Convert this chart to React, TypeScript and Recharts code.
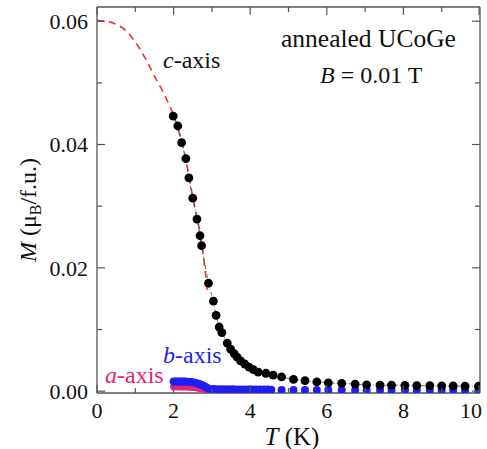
import { ComposedChart, Line, XAxis, YAxis } from "recharts";

// c-axis measured points (T in K, M in μB/f.u.)
const cT = [1.99, 2.11, 2.21, 2.32, 2.4, 2.5, 2.61, 2.69, 2.73, 2.91, 3.04, 3.11, 3.19, 3.26, 3.4, 3.49, 3.58, 3.66, 3.75, 3.86, 3.97, 4.08, 4.21, 4.41, 4.6, 4.82, 5.13, 5.43, 5.74, 6.04, 6.39, 6.74, 7.04, 7.39, 7.69, 8.04, 8.35, 8.69, 9.0, 9.3, 9.61, 9.96];
const cM = [0.0446, 0.043, 0.0403, 0.0377, 0.0346, 0.0313, 0.0279, 0.0252, 0.0236, 0.0175, 0.0146, 0.0123, 0.0104, 0.0095, 0.0078, 0.0068, 0.0061, 0.0055, 0.0049, 0.0044, 0.0039, 0.0035, 0.0031, 0.0029, 0.0026, 0.0023, 0.0019, 0.0017, 0.0015, 0.00135, 0.00125, 0.00114, 0.00102, 0.00097, 0.00097, 0.00095, 0.0009, 0.0009, 0.00086, 0.00085, 0.00081, 0.0008];

// fit curve (red dashed)
const fitT = [0, 0.25, 0.5, 0.75, 1.0, 1.25, 1.5, 1.75, 2.0, 2.25, 2.5, 2.75, 2.88];
const fitM = [0.0601, 0.06, 0.0595, 0.0585, 0.0566, 0.0541, 0.0511, 0.0482, 0.0447, 0.0395, 0.0315, 0.0232, 0.0162];

// b-axis
const bT = [2.0, 2.05, 2.1, 2.15, 2.2, 2.25, 2.3, 2.35, 2.4, 2.45, 2.5, 2.55, 2.6, 2.65, 2.7, 2.75, 2.8, 2.85, 2.9, 2.95, 3.05, 3.15, 3.25, 3.35, 3.45, 3.55, 3.65, 3.75, 3.85, 3.95, 4.05, 4.15, 4.25, 4.35, 4.45, 4.55, 4.82, 5.13, 5.43, 5.74, 6.04, 6.39, 6.74, 7.04, 7.39, 7.69, 8.04, 8.35, 8.69, 9.0, 9.3, 9.61, 9.96];
const bM = [0.00155, 0.00156, 0.00157, 0.00157, 0.00157, 0.00156, 0.00155, 0.00153, 0.0015, 0.00147, 0.00143, 0.00137, 0.0013, 0.0012, 0.00108, 0.00095, 0.0008, 0.00062, 0.00045, 0.00036, 0.00033, 0.00032, 0.00031, 0.0003, 0.0003, 0.00029, 0.00028, 0.00028, 0.00027, 0.00027, 0.00026, 0.00026, 0.00025, 0.00025, 0.00025, 0.00024, 0.0002, 0.0002, 0.00019, 0.00019, 0.00019, 0.00018, 0.00018, 0.00018, 0.00018, 0.00018, 0.00017, 0.00017, 0.00017, 0.00017, 0.00017, 0.00016, 0.00016];

// a-axis
const aT = [2.0, 2.05, 2.1, 2.15, 2.2, 2.25, 2.3, 2.35, 2.4, 2.45, 2.5, 2.55, 2.6, 2.65, 2.7, 2.75, 2.8, 2.85];
const aM = [0.0007, 0.00071, 0.00071, 0.00071, 0.0007, 0.0007, 0.00069, 0.00068, 0.00067, 0.00065, 0.00063, 0.0006, 0.00056, 0.0005, 0.00044, 0.00036, 0.00028, 0.0002];

const xTicks = [0, 1, 2, 3, 4, 5, 6, 7, 8, 9, 10];
const yTicks = [0, 0.01, 0.02, 0.03, 0.04, 0.05, 0.06];

const zip = (ts: number[], ms: number[]) => ts.map((t, i) => ({ t, m: ms[i] }));
const cData = zip(cT, cM);
const fitData = zip(fitT, fitM);
const bData = zip(bT, bM);
const aData = zip(aT, aM);

const FONT = "'Liberation Serif', 'Times New Roman', serif";
const AXIS = "#555";
const BLUE = "#1f1ff0";
const PINK = "#e8237a";

const isMajorX = (v: number) => v % 2 === 0;
const isMajorY = (v: number) => Math.round(v * 100) % 2 === 0;

const BottomTick = (p: any) => {
  const v = p.payload.value;
  const major = isMajorX(v);
  // last label sits inside the frame edge, as in the original
  const lx = v === 10 ? p.x - 8 : p.x;
  return (
    <g>
      <line x1={p.x} x2={p.x} y1={p.y} y2={p.y - (major ? 8 : 5)} stroke={AXIS} strokeWidth={1.2} />
      {major && (
        <text x={lx} y={p.y + 25} textAnchor="middle" fontSize={22} fontFamily={FONT} fill="#111">
          {v}
        </text>
      )}
    </g>
  );
};

const TopTick = (p: any) => {
  const major = isMajorX(p.payload.value);
  return <line x1={p.x} x2={p.x} y1={p.y} y2={p.y + (major ? 8 : 5)} stroke={AXIS} strokeWidth={1.2} />;
};

const LeftTick = (p: any) => {
  const v = p.payload.value;
  const major = isMajorY(v);
  return (
    <g>
      <line x1={p.x} x2={p.x + (major ? 8 : 5)} y1={p.y} y2={p.y} stroke={AXIS} strokeWidth={1.2} />
      {major && (
        <text x={p.x - 9} y={p.y} dy="0.35em" textAnchor="end" fontSize={22} fontFamily={FONT} fill="#111">
          {v.toFixed(2)}
        </text>
      )}
    </g>
  );
};

const RightTick = (p: any) => {
  const major = isMajorY(p.payload.value);
  return <line x1={p.x} x2={p.x - (major ? 8 : 5)} y1={p.y} y2={p.y} stroke={AXIS} strokeWidth={1.2} />;
};

export default function App() {
  return (
    <div style={{ position: "absolute", left: 0, top: 0, width: 487, height: 449, background: "#fff" }}>
      <ComposedChart width={487} height={449} margin={{ top: 6, right: 6, left: 0, bottom: 0 }}>
        <XAxis
          xAxisId="b"
          type="number"
          dataKey="t"
          domain={[0, 10]}
          ticks={xTicks}
          allowDataOverflow
          height={56}
          tickSize={0}
          tickMargin={0}
          tickLine={false}
          tick={<BottomTick />}
          axisLine={{ stroke: AXIS, strokeWidth: 1.3 }}
        />
        <XAxis
          xAxisId="t"
          orientation="top"
          type="number"
          dataKey="t"
          domain={[0, 10]}
          ticks={xTicks}
          allowDataOverflow
          height={1}
          tickSize={0}
          tickMargin={0}
          tickLine={false}
          tick={<TopTick />}
          axisLine={{ stroke: AXIS, strokeWidth: 1.3 }}
        />
        <YAxis
          yAxisId="l"
          type="number"
          dataKey="m"
          domain={[-0.0003, 0.0623]}
          ticks={yTicks}
          allowDataOverflow
          width={97}
          tickSize={0}
          tickMargin={0}
          tickLine={false}
          tick={<LeftTick />}
          axisLine={{ stroke: AXIS, strokeWidth: 1.3 }}
        />
        <YAxis
          yAxisId="r"
          orientation="right"
          type="number"
          dataKey="m"
          domain={[-0.0003, 0.0623]}
          ticks={yTicks}
          allowDataOverflow
          width={1}
          tickSize={0}
          tickMargin={0}
          tickLine={false}
          tick={<RightTick />}
          axisLine={{ stroke: AXIS, strokeWidth: 1.3 }}
        />
        <Line
          xAxisId="t"
          yAxisId="r"
          data={aData}
          dataKey="m"
          stroke="none"
          dot={{ r: 3.6, fill: PINK, stroke: "none" }}
          isAnimationActive={false}
        />
        <Line
          xAxisId="b"
          yAxisId="l"
          data={bData}
          dataKey="m"
          stroke="none"
          dot={{ r: 4, fill: BLUE, stroke: "none" }}
          isAnimationActive={false}
        />
        <Line
          xAxisId="b"
          yAxisId="l"
          data={fitData}
          dataKey="m"
          type="monotone"
          stroke="#e53935"
          strokeWidth={1.6}
          strokeDasharray="7 5"
          dot={false}
          isAnimationActive={false}
        />
        <Line
          xAxisId="b"
          yAxisId="l"
          data={cData}
          dataKey="m"
          stroke="#444"
          strokeWidth={0.8}
          strokeDasharray="4 2 1 2"
          dot={{ r: 4.4, fill: "#000", stroke: "none" }}
          isAnimationActive={false}
        />
      </ComposedChart>
      <svg
        width={487}
        height={449}
        style={{ position: "absolute", left: 0, top: 0, pointerEvents: "none" }}
        fontFamily={FONT}
      >
        <text x={281} y={47} fontSize={25.5} fill="#111">annealed UCoGe</text>
        <text x={320} y={83} fontSize={24} fill="#111">
          <tspan fontStyle="italic">B</tspan> = 0.01 T
        </text>
        <text x={163} y={68} fontSize={24} fill="#111">
          <tspan fontStyle="italic">c</tspan>-axis
        </text>
        <text x={163} y={363} fontSize={24} fill={BLUE}>
          <tspan fontStyle="italic">b</tspan>-axis
        </text>
        <text x={105} y={383} fontSize={24} fill={PINK}>
          <tspan fontStyle="italic">a</tspan>-axis
        </text>
        <text x={292} y={445} fontSize={25} fill="#111" textAnchor="middle">
          <tspan fontStyle="italic">T</tspan> (K)
        </text>
        <text x={36} y={210} fontSize={24} fill="#111" textAnchor="middle" transform="rotate(-90 36 210)">
          <tspan fontStyle="italic">M</tspan> (μ<tspan dy={5} fontSize={16}>B</tspan>
          <tspan dy={-5}>/f.u.)</tspan>
        </text>
      </svg>
    </div>
  );
}
